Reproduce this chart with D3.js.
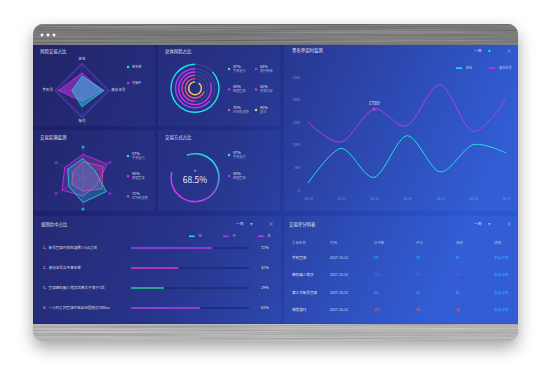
<!DOCTYPE html>
<meta charset="utf-8">
<style>
html, body { margin: 0; overflow: hidden; background: #fff; }
text { font-family: "Noto Sans CJK SC", "Noto Sans", sans-serif; }
</style>
<body>
<script src="https://cdnjs.cloudflare.com/ajax/libs/d3/7.8.5/d3.min.js"></script>
<script>

var width = 550, height = 367;

// 风险交易占比
var riskAxes = ["姓名", "身份证号", "账号", "手机号"];
var riskBlacklist = [53, 82, 60, 38];
var riskIp = [65, 73, 40, 88];
var riskLegend = ["黑名单", "可疑IP"];

// 总体风险占比
var ringLabels = ["手机支付", "银行转账", "网银登录", "有偿交易", "ATM机支取", "其它"];
var ringValues = [87, 64, 80, 50, 70, 90];

// 交易实施监测
var monitorPhone = [63, 45, 87, 79, 53, 57];
var monitorBank = [76, 90, 50, 58, 78, 68];
var monitorAtm = [53, 75, 70, 42, 41, 38];
var monitorLabels = ["手机支付", "网银登录", "ATM机支取"];
var monitorValues = [87, 80, 72];

// 交易方式占比
var gaugeValue = 68.5;
var wayLabels = ["手机支付", "网银登录"];
var wayValues = [87, 80];

// 黑名单实时监测
var days = ["10-10", "10-11", "10-12", "10-14", "10-15", "10-16", "10-17"];
var nameSeries = [150, 920, 280, 1200, 400, 1000, 820];
var idSeries = [1500, 1060, 1789, 1420, 2330, 1300, 2000];
var yTicks = [0, 500, 1000, 1500, 2000, 2500];

// 规则命中占比
var rules = ["1、账号登录时间在凌晨1-5点之间", "2、身份证号命中黑名单",
  "3、登录密码输入错误次数大于等于3次", "4、一小时之内登录IP地址范围超过300km"];
var ruleValues = [72, 42, 29, 61];
var ruleLegend = ["低", "中", "高"];

// 交易评分列表
var tableHead = ["交易名称", "时间", "命中数", "评分", "级别", "详情"];
var tableNames = ["手机登录", "密码输入错误", "第三方账号登录", "微信银行"];
var tableDates = ["2017-10-12", "2017-10-12", "2017-10-12", "2017-10-12"];
var tableHits = [59, 115, 85, 167];
var tableScores = [29, 33, 32, 80];
var tableLevels = ["低", "中", "低", "高"];

var cyan = "#1fe0e6", violet = "#a03cf5", magenta = "#d82ef0", pink = "#e8489a",
    rose = "#f0507a", yellow = "#f2c865", red = "#e85a5a";
var ringColors = [cyan, violet, magenta, "#e03cc0", rose, yellow];
var levelColor = { "低": "#22c4e8", "中": "#bf3af5", "高": red };

var svg = d3.select("body").append("svg")
  .attr("width", width).attr("height", height);
var defs = svg.append("defs");

// shadow + metal textures
var sh = defs.append("filter").attr("id", "shadow")
  .attr("x", -0.2).attr("y", -0.2).attr("width", 1.4).attr("height", 1.5);
sh.append("feDropShadow").attr("dx", 0).attr("dy", 7).attr("stdDeviation", 8)
  .attr("flood-color", "#000").attr("flood-opacity", 0.35);

function metal(id, base, amp) {
  var f = defs.append("filter").attr("id", id)
    .attr("color-interpolation-filters", "sRGB")
    .attr("x", 0).attr("y", 0).attr("width", 1).attr("height", 1);
  f.append("feTurbulence").attr("type", "fractalNoise")
    .attr("baseFrequency", "0.004 0.7").attr("numOctaves", 3).attr("seed", 4);
  f.append("feColorMatrix").attr("type", "matrix")
    .attr("values", [amp, 0, 0, 0, base, amp, 0, 0, 0, base, amp, 0, 0, 0, base, 0, 0, 0, 0, 1].join(" "));
}
metal("metalTop", 0.34, 0.28);
metal("metalBot", 0.56, 0.28);

var bg = defs.append("linearGradient").attr("id", "bg")
  .attr("x1", 0).attr("y1", 0).attr("x2", 1).attr("y2", 0.25);
bg.append("stop").attr("offset", 0).attr("stop-color", "#1b1c63");
bg.append("stop").attr("offset", 0.45).attr("stop-color", "#1f2c86");
bg.append("stop").attr("offset", 1).attr("stop-color", "#2a57d4");

var gg = defs.append("linearGradient").attr("id", "gauge")
  .attr("x1", 0.8).attr("y1", 0).attr("x2", 0.25).attr("y2", 1);
gg.append("stop").attr("offset", 0).attr("stop-color", "#18f0cc");
gg.append("stop").attr("offset", 0.55).attr("stop-color", "#8a5cf2");
gg.append("stop").attr("offset", 1).attr("stop-color", "#e22cf0");

defs.append("clipPath").attr("id", "frameClip")
  .append("rect").attr("x", 33).attr("y", 24).attr("width", 485).attr("height", 317).attr("rx", 10);

svg.append("rect").attr("x", 33).attr("y", 24).attr("width", 485).attr("height", 317)
  .attr("rx", 10).attr("fill", "#888").attr("filter", "url(#shadow)");

var frame = svg.append("g").attr("clip-path", "url(#frameClip)");
frame.append("rect").attr("x", 33).attr("y", 24).attr("width", 485).attr("height", 22)
  .attr("filter", "url(#metalTop)");
frame.append("rect").attr("x", 33).attr("y", 323).attr("width", 485).attr("height", 18)
  .attr("filter", "url(#metalBot)");
frame.append("rect").attr("x", 33).attr("y", 45).attr("width", 485).attr("height", 279)
  .attr("fill", "url(#bg)");

frame.selectAll(".dot").data([42, 48, 54]).enter().append("circle")
  .attr("cx", function(d) { return d; }).attr("cy", 35).attr("r", 1.4).attr("fill", "#fff");

var panels = [
  [34, 45, 121, 81], [158, 45, 122, 81], [34, 130, 121, 81], [158, 130, 122, 81],
  [284, 45, 234, 166], [34, 216, 247, 107], [284, 216, 234, 107]
];
frame.selectAll(".panel").data(panels).enter().append("rect")
  .attr("x", function(d) { return d[0]; }).attr("y", function(d) { return d[1]; })
  .attr("width", function(d) { return d[2]; }).attr("height", function(d) { return d[3]; })
  .attr("fill", "#fff").attr("fill-opacity", 0.04);

var g = svg.append("g");

function label(x, y, t, size, fill, anchor, op) {
  return g.append("text").attr("x", x).attr("y", y).text(t)
    .attr("font-size", size).attr("fill", fill || "#fff")
    .attr("fill-opacity", op == null ? 1 : op)
    .attr("text-anchor", anchor || "start").attr("dominant-baseline", "middle");
}

var titles = [[40, 52, "风险交易占比"], [165, 52, "总体风险占比"], [40, 138, "交易实施监测"],
  [165, 138, "交易方式占比"], [292, 51, "黑名单实时监测"], [41, 225, "规则命中占比"], [289, 225, "交易评分列表"]];
titles.forEach(function(t) { label(t[0], t[1], t[2], 4.4, "#fff", "start", 0.92); });

function controls(x, y) {
  label(x, y, "一周", 3.8, "#fff", "start", 0.75);
  g.append("path").attr("d", d3.symbol(d3.symbolTriangle, 4)())
    .attr("transform", "translate(" + (x + 15.5) + "," + y + ") rotate(180)").attr("fill", cyan);
  label(x + 35, y, "×", 6, "#fff", "middle", 0.5);
}
controls(474, 51);
controls(236, 224);
controls(474, 224);

function legendItem(x, y, color, pct, name) {
  g.append("rect").attr("x", x - 1.1).attr("y", y - 1.1).attr("width", 2.2).attr("height", 2.2).attr("fill", color);
  label(x + 4, y - 2.3, pct, 3.8, "#fff", "start", 0.9);
  label(x + 4, y + 2.1, name, 3.2, "#fff", "start", 0.6);
}

// ---- radar 1
var r1 = { x: 82, y: 90.5, r: 27 };
var r1Scale = d3.scaleLinear().domain([0, 100]).range([0, r1.r]);
var r1Ang = function(d, i) { return i * 2 * Math.PI / riskAxes.length; };
var r1g = g.append("g").attr("transform", "translate(" + r1.x + "," + r1.y + ")");
[33, 66, 92, 100].forEach(function(lv, k) {
  r1g.append("path")
    .attr("d", d3.lineRadial().angle(r1Ang).radius(r1Scale(lv)).curve(d3.curveLinearClosed)(riskAxes))
    .attr("fill", "none").attr("stroke", k == 3 ? "#7b3ce6" : "#6a5ad8")
    .attr("stroke-opacity", k == 3 ? 1 : 0.45).attr("stroke-width", k == 3 ? 0.9 : 0.5);
});
riskAxes.forEach(function(a, i) {
  var an = r1Ang(a, i);
  r1g.append("line").attr("x2", r1.r * Math.sin(an)).attr("y2", -r1.r * Math.cos(an))
    .attr("stroke", "#8a7ae0").attr("stroke-opacity", 0.35).attr("stroke-width", 0.5);
});
[[riskIp, magenta], [riskBlacklist, cyan]].forEach(function(s) {
  r1g.append("path")
    .attr("d", d3.lineRadial().angle(r1Ang).radius(function(d) { return r1Scale(d); }).curve(d3.curveLinearClosed)(s[0]))
    .attr("fill", s[1]).attr("fill-opacity", 0.45).attr("stroke", s[1]).attr("stroke-width", 0.7);
});
label(r1.x, r1.y - r1.r - 4, riskAxes[0], 3.6, "#fff", "middle", 0.85);
label(r1.x + r1.r + 2, r1.y, riskAxes[1], 3.6, "#fff", "start", 0.85);
label(r1.x, r1.y + r1.r + 4, riskAxes[2], 3.6, "#fff", "middle", 0.85);
label(r1.x - r1.r - 2, r1.y, riskAxes[3], 3.6, "#fff", "end", 0.85);
[[67, cyan], [83, magenta]].forEach(function(p, i) {
  g.append("rect").attr("x", 127).attr("y", p[0] - 1.1).attr("width", 2.2).attr("height", 2.2).attr("fill", p[1]);
  label(132, p[0], riskLegend[i], 3.2, "#fff", "start", 0.75);
});

// ---- rings
var ringR = [24, 19.5, 16.3, 13, 9.7, 6.4];
var ringScale = d3.scaleLinear().domain([0, 100]).range([0, 2 * Math.PI]);
var rg = g.append("g").attr("transform", "translate(195,88.3)");
ringValues.forEach(function(v, i) {
  var arc = d3.arc().innerRadius(ringR[i] - 0.7).outerRadius(ringR[i] + 0.7);
  rg.append("path").attr("d", arc({ startAngle: 0, endAngle: 2 * Math.PI }))
    .attr("fill", "#fff").attr("fill-opacity", 0.08);
  rg.append("path").attr("d", arc({ startAngle: -ringScale(v), endAngle: 0 }))
    .attr("fill", ringColors[i]);
});
ringValues.forEach(function(v, i) {
  var col = i % 2, row = Math.floor(i / 2);
  legendItem(229 + col * 27, 69 + row * 20.5, ringColors[i], v + "%", ringLabels[i]);
});

// ---- radar 2 (star shaped: concave edges between axis points)
var r2 = { x: 83, y: 178, r: 31 };
var r2Scale = d3.scaleLinear().domain([0, 100]).range([0, r2.r]);
var r2Ang = function(i) { return i * Math.PI / 3; };
var r2g = g.append("g").attr("transform", "translate(" + r2.x + "," + r2.y + ")");
d3.range(6).forEach(function(i) {
  var an = r2Ang(i);
  r2g.append("line").attr("x2", r2.r * Math.sin(an)).attr("y2", -r2.r * Math.cos(an))
    .attr("stroke", "#8a7ae0").attr("stroke-opacity", 0.4).attr("stroke-width", 0.5);
  r2g.append("circle").attr("cx", r2.r * Math.sin(an)).attr("cy", -r2.r * Math.cos(an)).attr("r", 1.6)
    .attr("fill", i % 3 == 0 ? "#1aa6c0" : "#7a2ec8");
});
function starPath(vals) {
  var pts = vals.map(function(v, i) {
    var an = r2Ang(i), rr = r2Scale(v);
    return [rr * Math.sin(an), -rr * Math.cos(an)];
  });
  var p = d3.path();
  p.moveTo(pts[0][0], pts[0][1]);
  pts.forEach(function(a, i) {
    var b = pts[(i + 1) % pts.length];
    p.quadraticCurveTo((a[0] + b[0]) * 0.5, (a[1] + b[1]) * 0.5, b[0], b[1]);
  });
  p.closePath();
  return p.toString();
}
[[monitorBank, magenta], [monitorAtm, pink], [monitorPhone, cyan]].forEach(function(s) {
  r2g.append("path").attr("d", starPath(s[0]))
    .attr("fill", s[1]).attr("fill-opacity", 0.22).attr("stroke", s[1]).attr("stroke-width", 0.8)
    .attr("stroke-linejoin", "round");
});
monitorValues.forEach(function(v, i) {
  legendItem(128, 156 + i * 20.2, [cyan, magenta, pink][i], v + "%", monitorLabels[i]);
});

// ---- gauge
var gaugeScale = d3.scaleLinear().domain([0, 100]).range([-20 * Math.PI / 180, 424 * Math.PI / 180]);
var gauge = g.append("g").attr("transform", "translate(195,177.7)");
gauge.append("path")
  .attr("d", d3.arc().innerRadius(23.2).outerRadius(24.8)({ startAngle: gaugeScale(0), endAngle: gaugeScale(gaugeValue) }))
  .attr("fill", "url(#gauge)");
gauge.append("rect").attr("x", -0.6).attr("y", -7.8).attr("width", 1.6).attr("height", 1.6).attr("fill", cyan);
label(195, 181, gaugeValue + "%", 8.5, "#fff", "middle", 0.95);
wayValues.forEach(function(v, i) {
  legendItem(229, 155 + i * 21, [cyan, magenta][i], v + "%", wayLabels[i]);
});

// ---- line chart
var x = d3.scalePoint().domain(days).range([308, 506]);
var y = d3.scaleLinear().domain([0, 2500]).range([190, 77]);
var ax = g.append("g").attr("transform", "translate(0,199)")
  .call(d3.axisBottom(x).tickSize(0).tickPadding(0));
var ay = g.append("g").attr("transform", "translate(300,0)")
  .call(d3.axisLeft(y).tickValues(yTicks).tickFormat(d3.format("d")).tickSize(0).tickPadding(0));
[ax, ay].forEach(function(a) {
  a.select(".domain").remove();
  a.selectAll("text").attr("font-size", 3.3).attr("fill", "#fff").attr("fill-opacity", 0.4)
    .attr("font-family", "Noto Sans, sans-serif");
});
ax.selectAll("text").attr("dy", "0.3em");

var line = d3.line().x(function(d, i) { return x(days[i]); }).y(function(d) { return y(d); })
  .curve(d3.curveCardinal.tension(0.1));
g.append("path").attr("d", line(idSeries)).attr("fill", "none").attr("stroke", "#b43cf5").attr("stroke-width", 1);
g.append("path").attr("d", line(nameSeries)).attr("fill", "none").attr("stroke", "#1ee0dc").attr("stroke-width", 1);
var peak = 2;
g.append("circle").attr("cx", x(days[peak])).attr("cy", y(idSeries[peak])).attr("r", 1.6).attr("fill", "#e02ce8");
label(x(days[peak]), y(idSeries[peak]) - 5.5, idSeries[peak], 5, "#fff", "middle", 0.9);

[[456, cyan, "姓名"], [489, "#b43cf5", "身份证号"]].forEach(function(l) {
  g.append("rect").attr("x", l[0]).attr("y", 67.4).attr("width", 6).attr("height", 1.6).attr("fill", l[1]);
  label(l[0] + 10, 68.3, l[2], 3.2, "#fff", "start", 0.7);
});

// ---- rule bars
var barX = d3.scaleLinear().domain([0, 100]).range([131, 244]);
var barColors = ["#a244e6", "#d23cc6", "#2ec498", "#ad44e8"];
rules.forEach(function(r, i) {
  var yy = 248 + i * 20;
  label(43, yy, r, 3.6, "#fff", "start", 0.85);
  g.append("rect").attr("x", 131).attr("y", yy - 0.8).attr("width", 118).attr("height", 1.6)
    .attr("fill", "#0e1650").attr("fill-opacity", 0.45);
  g.append("rect").attr("x", 131).attr("y", yy - 0.8).attr("width", barX(ruleValues[i]) - 131).attr("height", 1.6)
    .attr("fill", barColors[i]);
  label(261, yy, ruleValues[i] + "%", 3.8, "#fff", "start", 0.9);
});
[[189, cyan], [223, violet], [258, "#c43ce8"]].forEach(function(l, i) {
  g.append("rect").attr("x", l[0]).attr("y", 235.5).attr("width", 5.5).attr("height", 1.6).attr("fill", l[1]);
  label(l[0] + 9.5, 236.3, ruleLegend[i], 3.2, "#fff", "start", 0.6);
});

// ---- table
var colX = [292, 330, 374, 416, 456, 494];
tableHead.forEach(function(h, i) { label(colX[i], 243, h, 3.4, "#fff", "start", 0.6); });
tableNames.forEach(function(n, i) {
  var yy = 258 + i * 17.3, c = levelColor[tableLevels[i]];
  label(colX[0], yy, n, 3.6, "#fff", "start", 0.9);
  label(colX[1], yy, tableDates[i], 3.5, "#fff", "start", 0.8);
  label(colX[2], yy, tableHits[i], 3.6, c);
  label(colX[3], yy, tableScores[i], 3.6, c);
  label(colX[4], yy, tableLevels[i], 3.6, c);
  label(colX[5], yy, "查看详情", 3.6, "#2eaaff");
});

</script>
